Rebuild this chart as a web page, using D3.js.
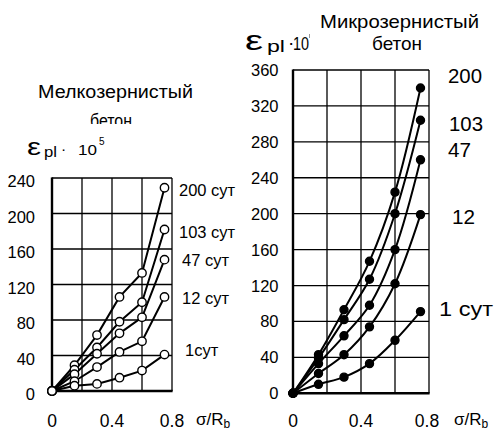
<!DOCTYPE html>
<html><head><meta charset="utf-8">
<script src="https://cdn.jsdelivr.net/npm/d3@7"></script>
<style>
html,body{margin:0;padding:0;background:#fff;}
svg{display:block;font-family:"Liberation Sans",Arial,sans-serif;}
</style></head>
<body>
<script>
// ---- data ----
const xVals = [0, 0.15, 0.3, 0.45, 0.6, 0.75];
const xTicks = [0, 0.4, 0.8];
const xGrid = [0, 0.2, 0.4, 0.6, 0.8];
const fineTicks = [0, 40, 80, 120, 160, 200, 240];
const microTicks = [0, 40, 80, 120, 160, 200, 240, 280, 320, 360];

const fineLabels = ["200 сут", "103 сут", "47 сут", "12 сут", "1сут"];
const fine200 = [0, 29, 63, 106, 133, 229];
const fine103 = [0, 24, 49, 78, 100, 182];
const fine47  = [0, 19, 42, 65, 83, 148];
const fine12  = [0, 11, 27, 44, 56, 106];
const fine1   = [0, 6, 8, 15, 23, 41];

const microLabels = ["200", "103", "47", "12", "1 сут"];
const micro200 = [0, 43, 93, 147, 224, 340];
const micro103 = [0, 39, 82, 127, 200, 304];
const micro47  = [0, 33, 64, 98, 160, 260];
const micro12  = [0, 22, 43, 74, 122, 199];
const micro1   = [0, 10, 18, 33, 59, 91];

const W = 498, H = 431;
const svg = d3.select("body").append("svg").attr("width", W).attr("height", H);

function panel(cfg) {
  const x = d3.scaleLinear().domain([0, 0.8]).range([cfg.x0, cfg.x1]);
  const y = d3.scaleLinear().domain([0, cfg.ymax]).range([cfg.y0, cfg.y1]);
  const g = svg.append("g");
  // grid
  g.selectAll(".hg").data(cfg.yTicks).join("line")
    .attr("x1", x(0)).attr("x2", x(0.8)).attr("y1", d => y(d)).attr("y2", d => y(d))
    .attr("stroke", "#000").attr("stroke-width", 1.3);
  g.selectAll(".vg").data(xGrid).join("line")
    .attr("x1", d => x(d)).attr("x2", d => x(d)).attr("y1", y(0)).attr("y2", y(cfg.ymax))
    .attr("stroke", "#000").attr("stroke-width", 1.3);
  // axes (thick)
  g.append("line").attr("x1", x(0)).attr("x2", x(0)).attr("y1", y(0) + 1).attr("y2", y(cfg.ymax) - 0.6)
    .attr("stroke", "#000").attr("stroke-width", 2.4);
  g.append("line").attr("x1", x(0) - 1).attr("x2", x(0.8) + 0.6).attr("y1", y(0)).attr("y2", y(0))
    .attr("stroke", "#000").attr("stroke-width", 2.6);
  // y tick labels
  g.selectAll(".yl").data(cfg.yTicks).join("text")
    .attr("x", cfg.ylabX).attr("y", d => y(d) + cfg.ylabDy)
    .attr("text-anchor", "end").attr("font-size", 16.5).text(d => d);
  // x tick labels
  g.selectAll(".xl").data(xTicks).join("text")
    .attr("x", d => x(d) + (d === 0.8 ? cfg.x08dx : 0)).attr("y", 427)
    .attr("text-anchor", "middle").attr("font-size", 17.5).text(d => d);
  // σ/Rb
  const s = g.append("text").attr("x", cfg.sigX).attr("y", 425).attr("font-size", 17);
  s.append("tspan").text("σ/R");
  s.append("tspan").attr("font-size", 12).attr("dy", 3).text("b");
  // series
  const line = d3.line().x((d, i) => x(xVals[i])).y(d => y(d)).curve(cfg.curve);
  cfg.series.forEach((vals) => {
    g.append("path").attr("d", line(vals)).attr("fill", "none")
      .attr("stroke", "#000").attr("stroke-width", 2);
  });
  cfg.series.forEach((vals) => {
    g.selectAll(null).data(vals).join("circle")
      .attr("cx", (d, i) => x(xVals[i])).attr("cy", d => y(d)).attr("r", cfg.r)
      .attr("fill", cfg.filled ? "#000" : "#fff").attr("stroke", "#000").attr("stroke-width", 1.4);
  });
  // series labels
  cfg.labels.forEach((t, k) => {
    const tx = g.append("text").attr("x", cfg.labPos[k][0]).attr("y", cfg.labPos[k][1])
      .attr("font-size", cfg.labSize).text(t);
    if (cfg.labLen && cfg.labLen[k]) tx.attr("textLength", cfg.labLen[k]).attr("lengthAdjust", "spacingAndGlyphs");
  });
  return g;
}

panel({
  x0: 52, x1: 172, y0: 391, y1: 178, ymax: 240, yTicks: fineTicks,
  ylabX: 35, ylabDy: 9, x08dx: 0, sigX: 196,
  series: [fine200, fine103, fine47, fine12, fine1],
  curve: d3.curveLinear, r: 4.2, filled: false,
  labels: fineLabels, labSize: 16.5,
  labPos: [[179, 196], [179, 238], [182, 266], [182, 304], [185, 356]]
});

panel({
  x0: 293, x1: 429, y0: 393.3, y1: 70, ymax: 360, yTicks: microTicks,
  ylabX: 278.5, ylabDy: 6, x08dx: -2, sigX: 454,
  series: [micro200, micro103, micro47, micro12, micro1],
  curve: d3.curveCatmullRom.alpha(0.5), r: 4, filled: true,
  labels: microLabels, labSize: 20,
  labPos: [[448, 83], [449, 131], [448, 157], [452, 224], [439, 316]],
  labLen: [34, 34, 23, 23, 54]
});

// titles
svg.append("text").attr("x", 38).attr("y", 98).attr("font-size", 17.5)
  .attr("textLength", 155).attr("lengthAdjust", "spacingAndGlyphs").text("Мелкозернистый");
svg.append("clipPath").attr("id", "clipB").append("rect")
  .attr("x", 0).attr("y", 100).attr("width", 240).attr("height", 24);
svg.append("text").attr("x", 90).attr("y", 127).attr("font-size", 18)
  .attr("clip-path", "url(#clipB)")
  .attr("textLength", 42).attr("lengthAdjust", "spacingAndGlyphs").text("бетон");

svg.append("text").attr("x", 320).attr("y", 28).attr("font-size", 19)
  .attr("textLength", 159).attr("lengthAdjust", "spacingAndGlyphs").text("Микрозернистый");
svg.append("text").attr("x", 372).attr("y", 50).attr("font-size", 19)
  .attr("textLength", 50).attr("lengthAdjust", "spacingAndGlyphs").text("бетон");

// epsilon labels
function eps(o) {
  svg.append("text").attr("x", o.ex).attr("y", o.by).attr("font-size", o.es)
    .attr("textLength", o.ew).attr("lengthAdjust", "spacingAndGlyphs").text("ε");
  svg.append("text").attr("x", o.px).attr("y", o.by + 2).attr("font-size", o.ps)
    .attr("textLength", o.pw).attr("lengthAdjust", "spacingAndGlyphs").text("pl");
  svg.append("text").attr("x", o.dx).attr("y", o.by - 1).attr("font-size", o.ns).text("·");
  svg.append("text").attr("x", o.tx).attr("y", o.by).attr("font-size", o.ns)
    .attr("textLength", o.tw).attr("lengthAdjust", "spacingAndGlyphs").text("10");
  if (o.sup) svg.append("text").attr("x", o.sx).attr("y", o.by - 10).attr("font-size", 10).text(o.sup);
}
eps({ex: 27, ew: 14, by: 155, es: 24, px: 44, pw: 13, ps: 15, dx: 61, tx: 78, ns: 15.5, tw: 19, sup: "5", sx: 99});
eps({ex: 245, ew: 18, by: 50, es: 27, px: 267, pw: 18, ps: 16, dx: 288, tx: 293, ns: 19, tw: 16, sup: null});
svg.append("rect").attr("x", 309).attr("y", 34).attr("width", 1).attr("height", 4).attr("fill", "#999");
</script>
</body></html>
